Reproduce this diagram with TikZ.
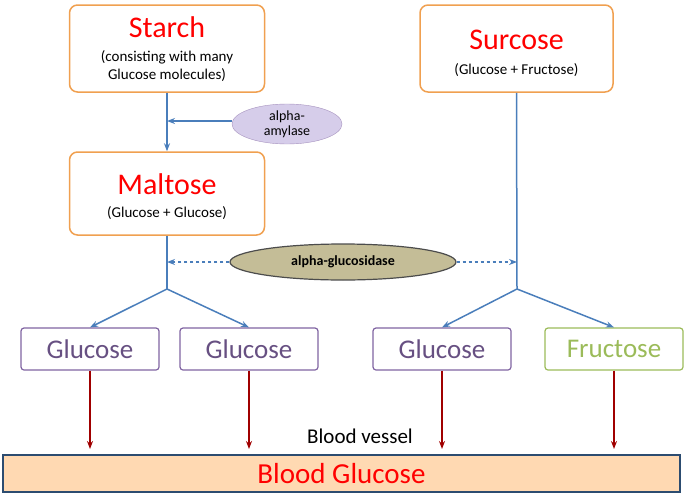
\documentclass[tikz,border=0pt]{standalone}
\usepackage{fontspec}
\setmainfont{Carlito}
\usetikzlibrary{arrows.meta,shapes.geometric}
\definecolor{obord}{HTML}{F0A050}
\definecolor{conn}{HTML}{4A7EBB}
\definecolor{pbord}{HTML}{8064A2}
\definecolor{gbord}{HTML}{9BBB59}
\definecolor{dred}{HTML}{A00000}
\definecolor{khaki}{HTML}{C4BD97}
\definecolor{lav}{HTML}{D6CDEA}
\begin{document}
\begin{tikzpicture}[x=1pt,y=-1pt,
  big/.style={draw=obord,line width=1.5pt,rounded corners=8pt,fill=white},
  sug/.style={draw=pbord,line width=1.2pt,rounded corners=3pt,minimum width=138pt,minimum height=42pt,font=\fontsize{27}{29}\selectfont,text=pbord!80!black},
  ln/.style={conn,line width=1.5pt},
  ar/.style={conn,line width=1.5pt,-{Stealth[length=8pt]}},
  red/.style={dred,line width=1.5pt,-{Stealth[length=8pt]}}]
\useasboundingbox (0,0) rectangle (685,498);
\node[big,minimum width=195pt,minimum height=87pt] (starch) at (167,48.5) {};
\node[text=red,font=\fontsize{30}{32}\selectfont] at (167,27) {Starch};
\node[font=\fontsize{15}{18}\selectfont,align=center] at (167,66) {(consisting with many\\Glucose molecules)};
\node[big,minimum width=193pt,minimum height=87pt] (sur) at (516.5,48.5) {};
\node[text=red,font=\fontsize{30}{32}\selectfont] at (516.5,40) {Surcose};
\node[font=\fontsize{15}{18}\selectfont] at (516.5,70) {(Glucose + Fructose)};
\node[big,minimum width=195pt,minimum height=83pt] (malt) at (167,193.5) {};
\node[text=red,font=\fontsize{30}{32}\selectfont] at (167,184) {Maltose};
\node[font=\fontsize{15}{18}\selectfont] at (167,213) {(Glucose + Glucose)};
\node[ellipse,draw=pbord!70,fill=lav,minimum width=110pt,minimum height=40pt,inner sep=0pt,align=center,font=\fontsize{14}{15}\selectfont] (amy) at (287,124) {alpha-\\amylase};
\draw[ar] (starch.south) -- (malt.north);
\coordinate (ja) at (167,121);
\draw[ar] (amy.west |- ja) -- (ja);
\node[ellipse,draw=black!70,line width=1.2pt,fill=khaki,minimum width=226pt,minimum height=36pt,font=\bfseries\fontsize{14}{15}\selectfont] (gluc) at (343,262) {alpha-glucosidase};
\coordinate (jm) at (167,262);
\coordinate (js) at (517,262);
\draw[conn,line width=1.3pt,dashed,-{Stealth[length=8pt]}] (gluc.west) -- (jm);
\draw[conn,line width=1.3pt,dashed,-{Stealth[length=8pt]}] (gluc.east) -- (js);
\node[sug] (g1) at (90,349) {Glucose};
\node[sug] (g2) at (249,349) {Glucose};
\node[sug] (g3) at (442,349) {Glucose};
\node[sug,draw=gbord,text=gbord] (f) at (614,349) {Fructose};
\coordinate (bm) at (167,289);
\coordinate (bs) at (517,289);
\draw[ln] (malt.south) -- (bm);
\draw[ln] (sur.south) -- (bs);
\draw[ar] (bm) -- (g1.north);
\draw[ar] (bm) -- (g2.north);
\draw[ar] (bs) -- (g3.north);
\draw[ar] (bs) -- (f.north);
\node[draw=conn!60!black,line width=1.5pt,fill=orange!30!white,minimum width=677pt,minimum height=37pt,text=red,font=\fontsize{29}{31}\selectfont] (bg) at (341.5,473.5) {Blood Glucose};
\node[font=\fontsize{21}{23}\selectfont] (bv) at (360,436) {Blood vessel};
\foreach \n in {g1,g2,g3,f} \draw[red] (\n.south) -- (\n.south |- 0,449);
\end{tikzpicture}
\end{document}
